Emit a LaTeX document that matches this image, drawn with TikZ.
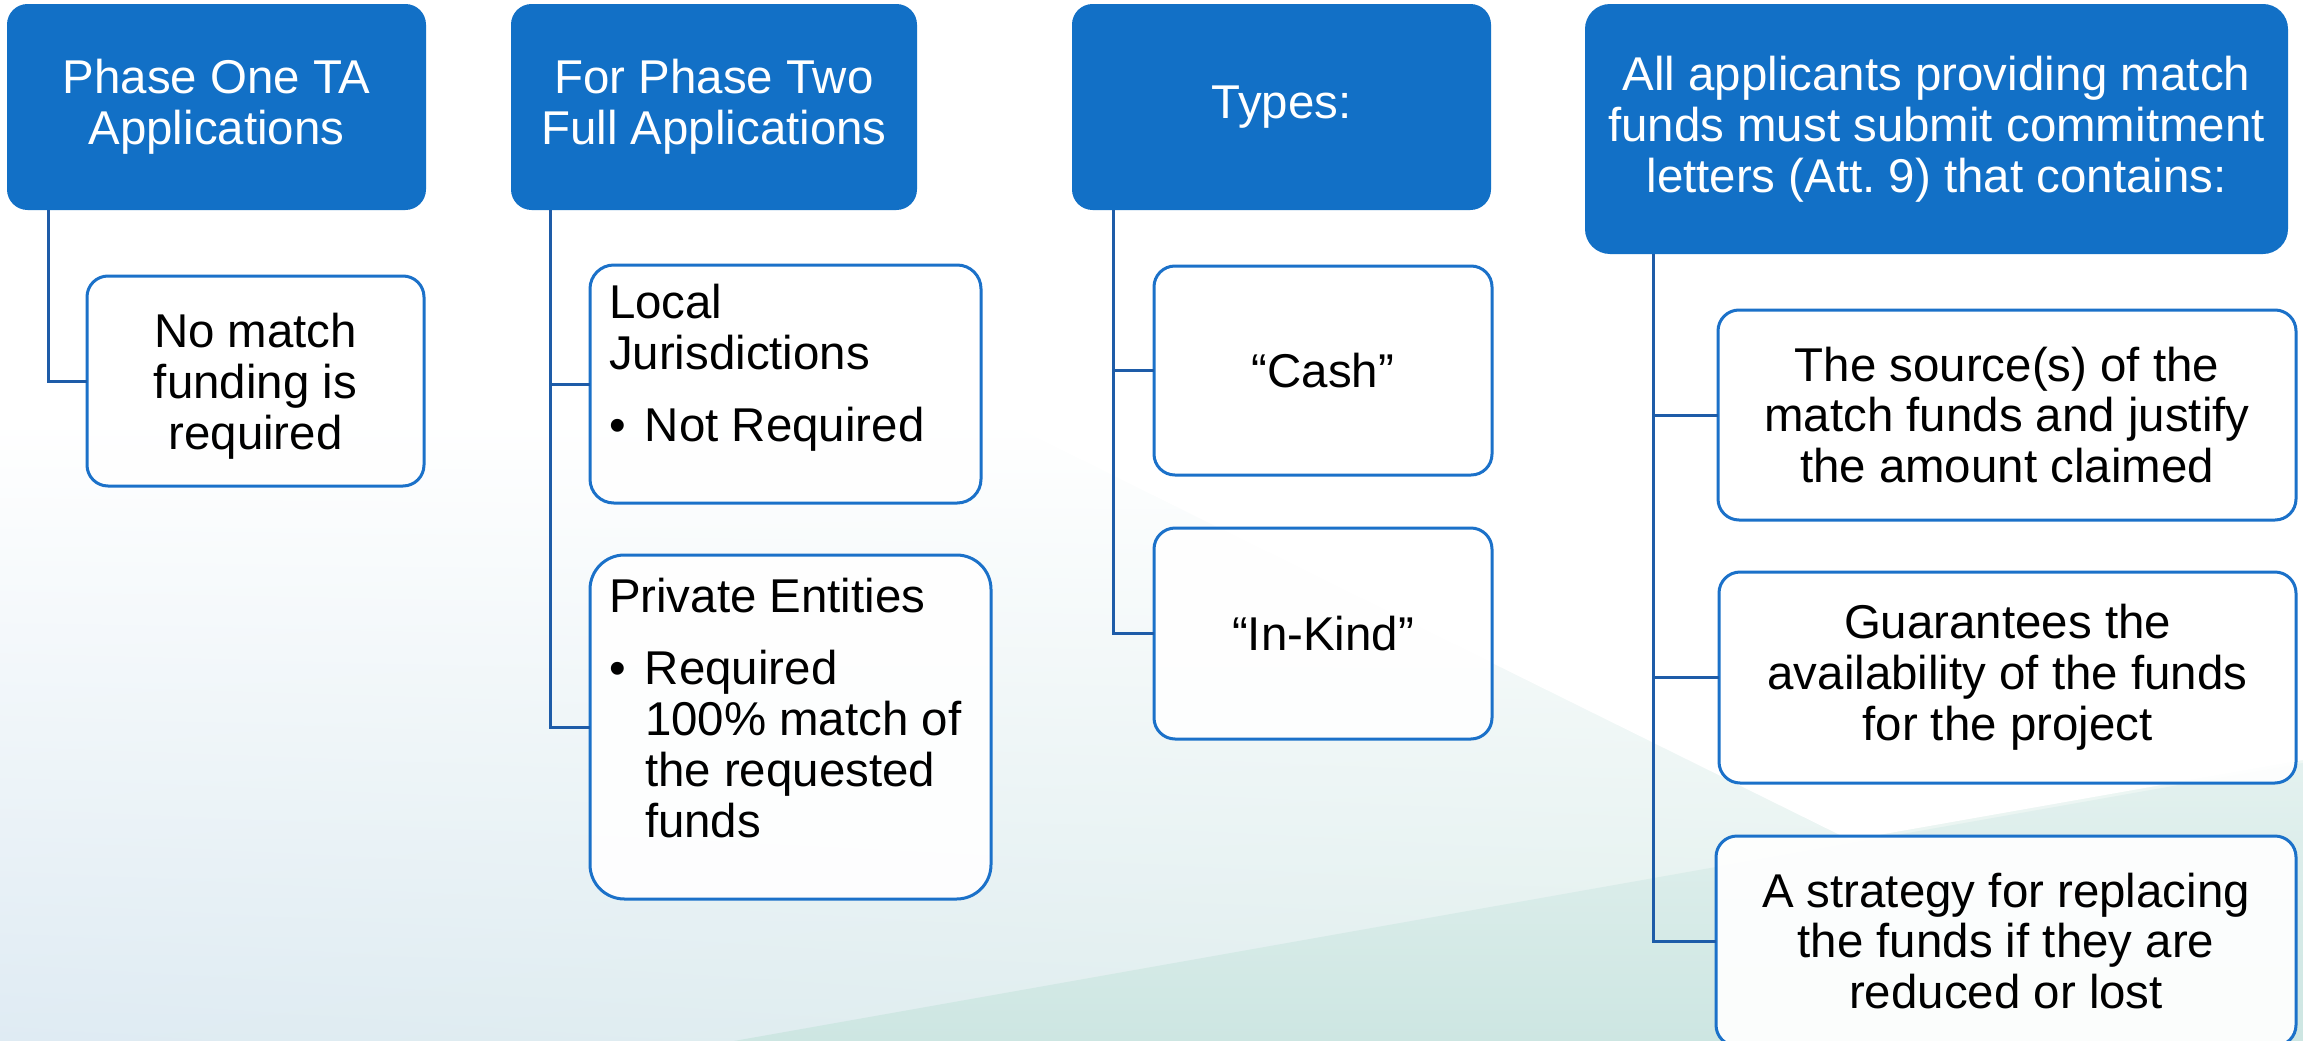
\documentclass[tikz,border=0pt]{standalone}
\usepackage{fontspec}
\setmainfont{Liberation Sans}
\usetikzlibrary{shadings}
\newlength{\pix}
\setlength{\pix}{0.02cm}
\definecolor{headblue}{RGB}{18,112,198}
\definecolor{edgeblue}{RGB}{27,113,201}
\definecolor{linkblue}{RGB}{30,92,168}
\definecolor{bgblue}{RGB}{223,235,243}
\definecolor{bgteal}{RGB}{205,230,226}
\definecolor{bggreen}{RGB}{224,240,234}
\newcommand{\boxfont}{\fontsize{27}{29}\selectfont}
\tikzset{
 head/.style={fill=headblue, text=white, align=center, font=\boxfont, inner sep=0pt, outer sep=0pt},
 entry/.style={draw=edgeblue, line width=3\pix, fill=white, fill opacity=0.92, text opacity=1, text=black, font=\boxfont, inner sep=0pt, outer sep=0pt},
 link/.style={draw=linkblue, line width=3\pix}
}
\newcommand{\headbox}[6]{% name, left, top, width, height, text
 \pgfmathsetmacro{\Xc}{#2+#4/2}
 \pgfmathsetmacro{\Yc}{#3+#5/2}
 \pgfmathsetmacro{\Rc}{0.1*min(#4,#5)}
\node[head, minimum width=#4\pix, minimum height=#5\pix, rounded corners=\Rc\pix] (#1) at (\Xc,\Yc) {#6};
}
\newcommand{\childbox}[7][]{% [extra], name, left, top, width, height, text
 \pgfmathsetmacro{\Xc}{#3+#5/2}
 \pgfmathsetmacro{\Yc}{#4+#6/2}
 \pgfmathsetmacro{\Rc}{0.1*min(#5,#6)}
\node[entry, align=center, minimum width=#5\pix, minimum height=#6\pix, rounded corners=\Rc\pix, #1] (#2) at (\Xc,\Yc) {#7};
}
\newcommand{\listbox}[7]{% name, left, top, width, height, top inset, text
 \pgfmathsetmacro{\Xc}{#2+#4/2}
 \pgfmathsetmacro{\Yc}{#3+#5/2}
 \pgfmathsetmacro{\Rc}{0.1*min(#4,#5)}
 \pgfmathsetmacro{\Wt}{#4-38}
 \pgfmathsetmacro{\Ht}{#5-2*#6}
\node[entry, inner xsep=19\pix, inner ysep=#6\pix, minimum width=#4\pix, minimum height=#5\pix, rounded corners=\Rc\pix] (#1) at (\Xc,\Yc)
 {\parbox[c][\Ht\pix][t]{\Wt\pix}{\raggedright #7}};
}
\newcommand{\bulletline}[1]{% one bullet point under a heading
\par\vspace{21\pix}\leftskip=36\pix\noindent\hspace*{-36\pix}\makebox[36\pix][l]{\textbullet}#1}
\newcommand{\branch}[3]{% header, offset of the line, child
\draw[link] (#1.south west) ++(#2,0) |- (#3.west);
}

\begin{document}
\begin{tikzpicture}[x=0.02cm,y=-0.02cm]
			\useasboundingbox (0,0) rectangle (2303,1041);

			% background
			\fill[white] (0,0) rectangle (2303,420);
			\shade[upper left=white, upper right=white, lower left=bgblue, lower right=bggreen] (0,420) rectangle (2303,1041);
			\fill[white] (1013,426) -- (1850,840) -- (2303,760) -- (2303,426) -- cycle;
			\shade[top color=bgteal!55!white, bottom color=bgteal] (734,1041) -- (2303,763) -- (2303,1041) -- cycle;

			\headbox{h1}{7}{4}{419}{206}{Phase One TA\\Applications}
			\headbox{h2}{511}{4}{406}{206}{For Phase Two\\Full Applications}
			\headbox{h3}{1072}{4}{419}{206}{Types:}
			\headbox{h4}{1585}{4}{703}{250}{All applicants providing match\\funds must submit commitment\\letters (Att.~9) that contains:}

			\childbox[text depth=0pt]{c1}{87}{276}{337}{210}{No match\\funding is\\required}

			\listbox{c2a}{590}{265}{391}{238}{19}{Local\\Jurisdictions\bulletline{Not Required}}
			\listbox{c2b}{590}{555}{401}{344}{23}{Private Entities\bulletline{Required\\100\% match of\\the requested\\funds}}

			\childbox{c3a}{1154}{266}{338}{209}{“Cash”}
			\childbox{c3b}{1154}{528}{338}{211}{“In-Kind”}

			\childbox{c4a}{1718}{310}{578}{210}{The source(s) of the\\match funds and justify\\the amount claimed}
			\childbox{c4b}{1719}{572}{577}{211}{Guarantees the\\availability of the funds\\for the project}
			\childbox{c4c}{1716}{836}{580}{210}{A strategy for replacing\\the funds if they are\\reduced or lost}

			\branch{h1}{41}{c1}
			\branch{h2}{39}{c2a}
			\branch{h2}{39}{c2b}
			\branch{h3}{41}{c3a}
			\branch{h3}{41}{c3b}
			\branch{h4}{68}{c4a}
			\branch{h4}{68}{c4b}
			\branch{h4}{68}{c4c}
\end{tikzpicture}
\end{document}
